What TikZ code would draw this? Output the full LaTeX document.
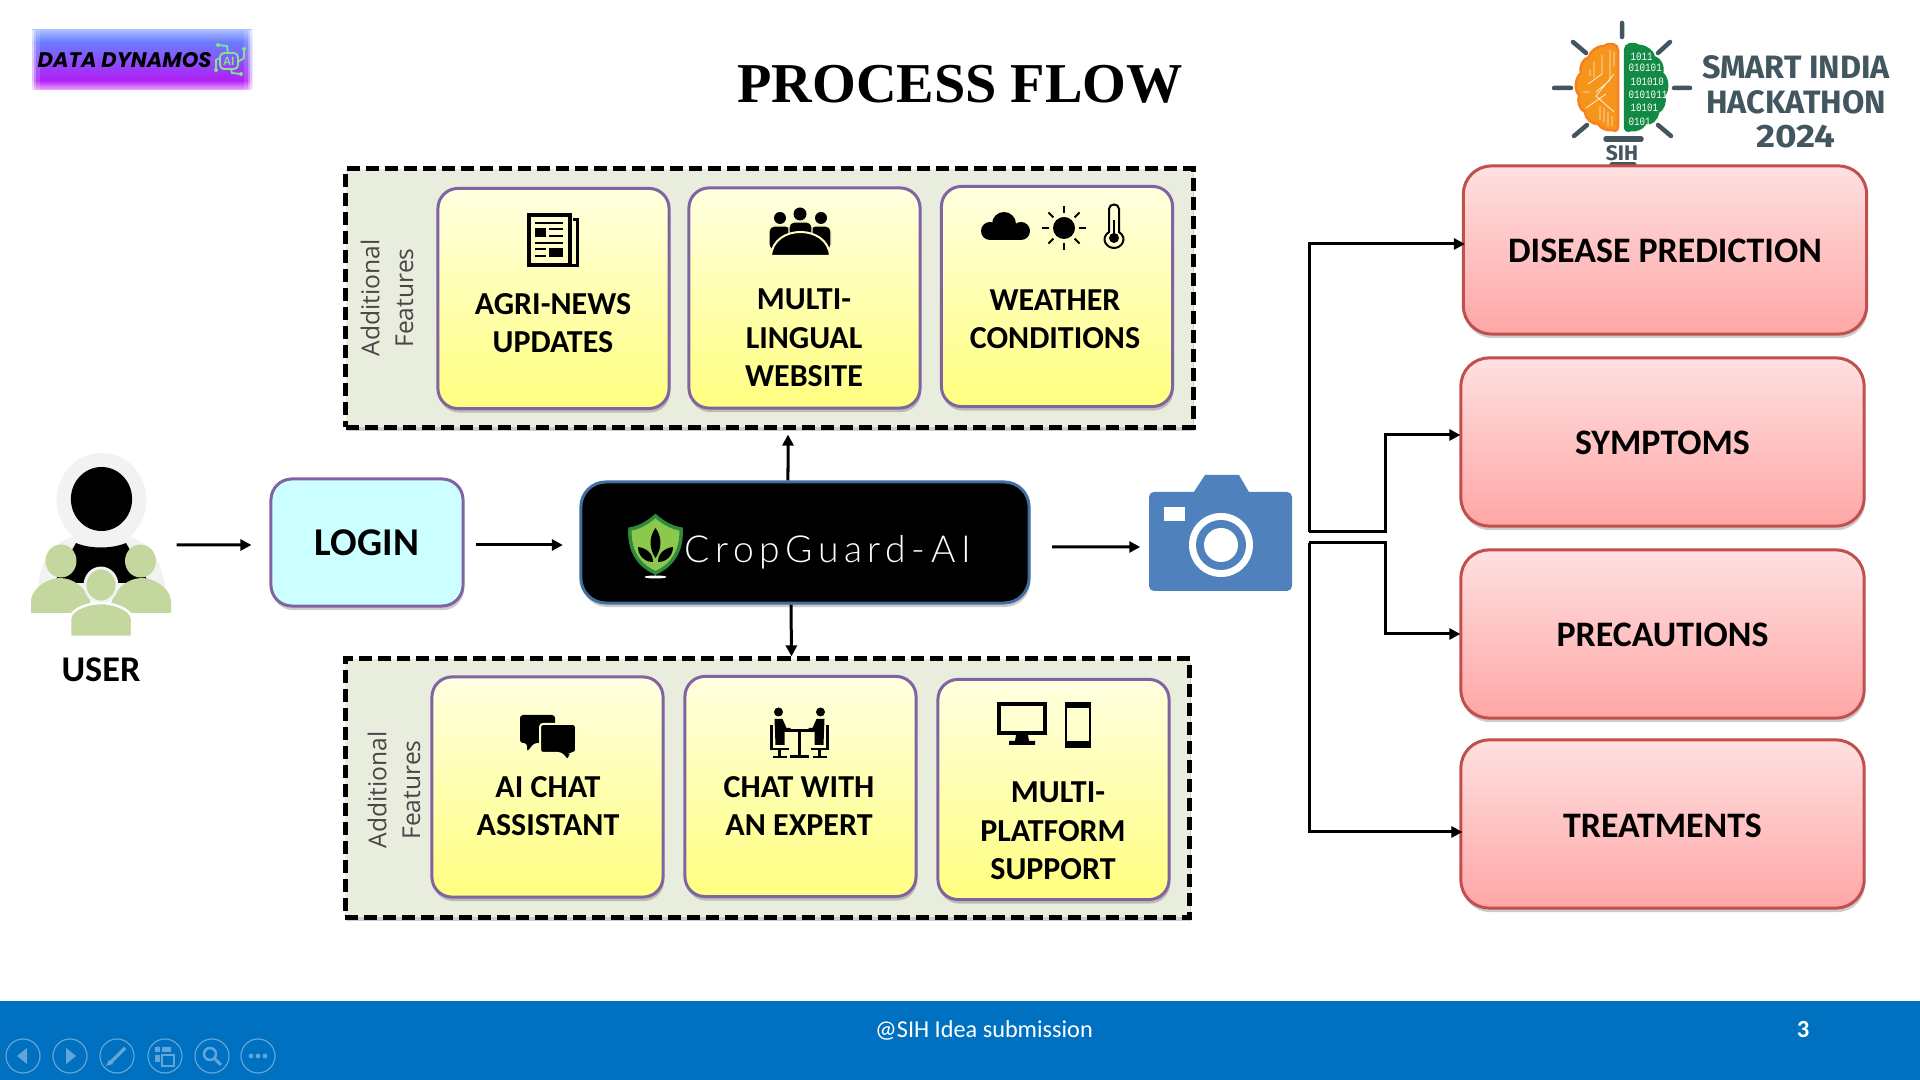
\documentclass[tikz,border=0pt]{standalone}
\usepackage{fontspec}
\setmainfont{Carlito}
\newfontfamily\titlefont{Liberation Serif}
\newfontfamily\sidefont{Open Sans}
\newfontfamily\cgfont[LetterSpace=15]{Lato Light}
\newfontfamily\ddfont{Poppins}
\newfontfamily\sihfont{Fira Sans}
\newfontfamily\binfont{Liberation Mono}
\usetikzlibrary{arrows.meta,shadows}
\definecolor{sihgrey}{HTML}{42565F}
\definecolor{barblue}{HTML}{0070C0}
\definecolor{navblue}{HTML}{62A5D8}
\definecolor{camblue}{HTML}{4F81BD}
\definecolor{cardpurple}{HTML}{8064A2}
\definecolor{cardred}{HTML}{C0504D}
\definecolor{boxgreen}{HTML}{E9EDDE}
\definecolor{usergreen}{HTML}{C4D79F}
\definecolor{usergrey}{HTML}{F2F2F2}
\definecolor{logincyan}{HTML}{CCFFFF}
\definecolor{iconyellow}{HTML}{FFFFC4}
\definecolor{brainorange}{HTML}{F58220}
\definecolor{braingreen}{HTML}{138A43}
\definecolor{shieldgreen}{HTML}{2E8B3E}
\definecolor{leafgreen}{HTML}{8CC84B}
\definecolor{ddgreen}{HTML}{7FE58C}
\definecolor{ddlow}{HTML}{EFAAFF}
\definecolor{ddpurple}{HTML}{B020F5}
\definecolor{ddblue}{HTML}{6A7BFF}
\definecolor{ddhigh}{HTML}{A8BCFF}
\pgfdeclareverticalshading{ddband}{100bp}{color(0bp)=(ddlow); color(25bp)=(ddlow); color(33bp)=(ddpurple); color(65bp)=(ddblue); color(75bp)=(ddhigh); color(100bp)=(ddhigh)}
\tikzset{
	softshadow/.style={drop shadow={shadow xshift=.01cm,shadow yshift=-.04cm,opacity=.2,fill=black}},
	dashedbox/.style={draw=black,fill=boxgreen,line width=.05cm,dash pattern=on .13cm off .06cm,inner sep=0pt,minimum width=8.47cm,minimum height=2.58cm,softshadow},
	featurecard/.style={draw=cardpurple,line width=.03cm,rounded corners=.2cm,top color=yellow!12!white,bottom color=yellow!50!white,inner sep=0pt,minimum width=2.31cm,minimum height=2.2cm,softshadow},
	resultcard/.style={draw=cardred,line width=.03cm,rounded corners=.28cm,top color=red!12!white,bottom color=red!35!white,inner sep=0pt,minimum width=4.03cm,minimum height=1.68cm,softshadow,text height=.26cm,text depth=0pt,font=\bfseries\fontsize{10.2}{12}\selectfont},
	cardtext/.style={align=center,font=\bfseries\fontsize{9.1}{10.95}\selectfont},
	sidetext/.style={rotate=90,align=center,text=black!72,font=\sidefont\fontsize{7}{9.6}\selectfont},
	flowarrow/.style={line width=.03cm,-{Triangle[length=.11cm,width=.11cm]}},
	navbutton/.style={shape=circle,draw=navblue,line width=.012cm,minimum size=.34cm,inner sep=0pt},
	sihray/.style={draw=sihgrey,line width=.045cm,line cap=round},
	logotext/.style={text=sihgrey,font=\sihfont\bfseries\fontsize{9.2}{11}\selectfont,inner sep=0pt}
}
\newcommand{\brainhalf}{(1618,50) .. controls (1618,44) and (1610,42) .. (1604,46) .. controls (1596,46) and (1590,52) .. (1589,57) .. controls (1583,59) and (1579,66) .. (1581,73) .. controls (1575,78) and (1574,90) .. (1579,95) .. controls (1577,102) and (1580,110) .. (1585,112) .. controls (1586,120) and (1592,124) .. (1598,124) .. controls (1601,129) and (1608,131) .. (1612,130) .. controls (1616,132) and (1618,130) .. (1618,126) -- cycle}
\begin{document}
\begin{tikzpicture}[x=.01cm,y=-.01cm]
	\useasboundingbox (0,0) rectangle (1920,1080);
	\fill[white] (0,0) rectangle (1920,1080);

	\fill[barblue] (0,1001) rectangle (1920,1080);
	\node[text=white,font=\fontsize{6.9}{8}\selectfont] (footer) at (984,1030) {@SIH Idea submission};
	\node[text=white,font=\bfseries\fontsize{7}{8}\selectfont] (pagenum) at (1803,1030) {3};
	\foreach \n/\xpos in {1/23,2/70,3/117,4/165,5/212,6/258}
		\node[navbutton] (nav\n) at (\xpos,1056) {};
	\fill[navblue] (17,1056) -- (27,1048) -- (27,1064) -- cycle;
	\fill[navblue] (76,1056) -- (66,1048) -- (66,1064) -- cycle;
	\draw[navblue,line width=.035cm] (110,1063) -- (125,1048);
	\fill[navblue] (106,1066) -- (109,1060) -- (113,1064) -- cycle;
	\fill[navblue] (155,1047) rectangle (160,1052) (162,1047) rectangle (171,1052) (155,1055) rectangle (160,1062);
	\draw[navblue,line width=.012cm] (162,1055) rectangle (174,1066);
	\draw[navblue,line width=.025cm] (210,1054) circle[radius=6];
	\draw[navblue,line width=.03cm] (215,1059) -- (221,1065);
	\foreach \xpos in {251,258,265}
		\fill[navblue] (\xpos,1056) circle[radius=2.4];

	\fill[shading=ddband] (32,30) rectangle (252,90);
	\foreach \wd/\op in {2/.5,4/.3,8/.15} {
		\fill[white,opacity=\op] (32,30) rectangle ++(\wd,60);
		\fill[white,opacity=\op] (252,30) rectangle ++(-\wd,60);
	}
	\node[anchor=west,inner sep=0pt,font=\ddfont\bfseries\itshape\fontsize{6}{7}\selectfont] (ddname) at (37,60) {DATA DYNAMOS};
	\draw[ddgreen,line width=.018cm,rounded corners=.04cm] (220,53) rectangle (238,69);
	\node[text=ddgreen,inner sep=0pt,font=\bfseries\fontsize{3.6}{4}\selectfont] (ddai) at (229,61) {AI};
	\draw[ddgreen,line width=.018cm] (218,45) -- (227,46) -- (228,53) (244,49) -- (244,58) -- (238,62) (241,74) -- (232,73) -- (231,69) (216,70) -- (216,60) -- (220,58);
	\foreach \xpos/\ypos in {218/45,244/49,241/74,216/70}
		\fill[ddgreen] (\xpos,\ypos) circle[radius=2];

	\node[font=\titlefont\bfseries\fontsize{16}{18}\selectfont] (title) at (960,84) {PROCESS FLOW};

	\draw[sihray] (1622,23) -- (1622,37) (1573,42) -- (1586,53) (1670,42) -- (1658,53) (1554,88) -- (1571,88) (1674,88) -- (1690,88) (1574,136) -- (1587,125) (1658,125) -- (1671,136);
	\draw[sihray,line width=.055cm] (1606,139) -- (1641,139) (1612,165) -- (1634,165);
	\filldraw[draw=brainorange,fill=brainorange!85!yellow,line width=.025cm] \brainhalf;
	\draw[white!85!orange,line width=.008cm] (1610,50) -- (1610,80) -- (1596,92) (1602,55) -- (1602,74) -- (1588,84) (1594,62) -- (1594,78) (1614,74) -- (1596,96) -- (1614,112) (1586,108) -- (1606,94) (1600,120) -- (1600,106) (1608,126) -- (1608,112) (1614,52) -- (1614,66) (1583,92) -- (1590,92) (1590,70) -- (1590,76) (1604,122) -- (1604,108) (1612,126) -- (1612,116);
	\begin{scope}[shift={(3243,0)},xscale=-1]
		\filldraw[draw=braingreen,fill=braingreen,line width=.025cm] \brainhalf;
	\end{scope}
	\foreach \row/\ypos/\xpos/\bits in {1/57/1630/1011,2/68/1628/010101,3/82/1630/101010,4/95/1628/0101011,5/108/1630/10101,6/122/1628/0101}
		\node[anchor=west,inner sep=0pt,text=white,xscale=.82,transform shape,font=\binfont\fontsize{3.2}{4}\selectfont] (bin\row) at (\xpos,\ypos) {\bits};
	\node[text=sihgrey,inner sep=0pt,font=\sihfont\bfseries\fontsize{6}{7}\selectfont] (sihmark) at (1622,153) {SIH};
	\node[logotext] (sihline1) at (1796,67) {SMART INDIA};
	\node[logotext] (sihline2) at (1796,102) {HACKATHON};
	\node[logotext,xscale=1.14,transform shape] (sihline3) at (1796,137) {2024};

	\node[dashedbox] (topbox) at (769.5,298) {};
	\node[dashedbox,minimum width=8.44cm] (botbox) at (767.5,788) {};
	\node[sidetext] (topside) at (387,298) {Additional\\Features};
	\node[sidetext] (botside) at (394,790) {Additional\\Features};

	\node[featurecard] (news) at (553.5,298.5) {};
	\node[featurecard] (lingual) at (804.5,298) {};
	\node[featurecard] (weather) at (1057,296.5) {};
	\node[featurecard] (chat) at (547.5,787) {};
	\node[featurecard] (expert) at (800.5,786.5) {};
	\node[featurecard] (platform) at (1053.5,789.5) {};
	\node[cardtext] (newstext) at (553,323) {AGRI-NEWS\\UPDATES};
	\node[cardtext] (lingualtext) at (804,338) {MULTI-\\LINGUAL\\WEBSITE};
	\node[cardtext] (weathertext) at (1055,319) {WEATHER\\CONDITIONS};
	\node[cardtext] (chattext) at (548,806) {AI CHAT\\ASSISTANT};
	\node[cardtext] (experttext) at (799,806) {CHAT WITH\\AN EXPERT};
	\node[cardtext] (platformtext) at (1053,831) {\hspace*{.1cm}MULTI-\\PLATFORM\\SUPPORT};

	\draw[line width=.04cm] (529,215) rectangle (570,265);
	\draw[line width=.03cm] (573,220) -- (577,220) -- (577,266) -- (570,266);
	\fill (535,228) rectangle (546,237);
	\fill (549,248) rectangle (563,257);
	\draw[line width=.016cm] (535,223) -- (563,223) (549,229) -- (563,229) (549,236) -- (563,236) (535,243) -- (563,243) (535,249) -- (546,249) (535,256) -- (546,256);

	\fill (780,218) circle[radius=6] (800,214) circle[radius=6.5] (821,218) circle[radius=6];
	\filldraw[draw=iconyellow,line width=.012cm,fill=black,rounded corners=.05cm] (769,250) -- (769,226) -- (791,226) -- (791,250) -- cycle;
	\filldraw[draw=iconyellow,line width=.012cm,fill=black,rounded corners=.05cm] (810,250) -- (810,226) -- (831,226) -- (831,250) -- cycle;
	\filldraw[draw=iconyellow,line width=.012cm,fill=black,rounded corners=.05cm] (789,250) -- (789,222) -- (812,222) -- (812,250) -- cycle;
	\filldraw[draw=iconyellow,line width=.02cm,fill=black] (771,256) .. controls (773,224) and (828,224) .. (830,256) -- cycle;

	\fill (990,231) circle[radius=9];
	\fill (1004,224) circle[radius=12];
	\fill (1021,231) circle[radius=9];
	\fill (990,228) rectangle (1021,240);
	\fill (1064,228) circle[radius=11];
	\foreach \ang in {0,45,...,315}
		\draw[line width=.02cm] (1064,228) ++(\ang:15) -- ++(\ang:7);
	\draw[line width=.02cm] (1109,232) -- (1109,209) .. controls (1109,203) and (1119,203) .. (1119,209) -- (1119,232) .. controls (1128,238) and (1122,248) .. (1114,248) .. controls (1106,248) and (1100,238) .. (1109,232) -- cycle;
	\fill (1114,238) circle[radius=5];
	\draw[line width=.015cm] (1114,238) -- (1114,220);

	\fill[rounded corners=.03cm] (520,715) -- (555,715) -- (555,743) -- (534,743) -- (527,752) -- (527,743) -- (520,743) -- cycle;
	\filldraw[draw=iconyellow,line width=.02cm,fill=black,rounded corners=.03cm] (540,724) -- (576,724) -- (576,753) -- (571,753) -- (568,761) -- (561,753) -- (540,753) -- cycle;

	\foreach \side in {1,-1} {
		\begin{scope}[shift={(799.5,0)},xscale=\side]
			\fill (-21,712) circle[radius=4.5];
			\fill (-25,719) -- (-17,719) -- (-13,728) -- (-9,728) -- (-9,732) -- (-15,732) -- (-15,745) -- (-24,745) -- cycle;
			\draw[line width=.025cm] (-28,725) -- (-28,749) -- (-11,749) (-20,749) -- (-20,757) (-27,757) -- (-13,757);
		\end{scope}
	}
	\draw[line width=.03cm] (785,731) -- (814,731) (799.5,731) -- (799.5,756) (790,757) -- (809,757);

	\draw[line width=.045cm] (999,704) rectangle (1045,733);
	\fill (1016,735) -- (1028,735) -- (1029,741) -- (1035,741) -- (1035,745) -- (1009,745) -- (1009,741) -- (1015,741) -- cycle;
	\draw[line width=.025cm] (1066,703) rectangle (1090,747);
	\fill (1065,702) rectangle (1091,708);
	\fill (1065,741) rectangle (1091,748);

	\node[shape=rectangle,rounded corners=.21cm,draw=cardpurple,line width=.03cm,fill=logincyan,inner sep=0pt,minimum width=1.92cm,minimum height=1.27cm,softshadow,font=\bfseries\fontsize{11.2}{13}\selectfont] (login) at (367,542.5) {LOGIN};

	\fill[usergrey] (101.5,500) ellipse[x radius=45,y radius=47];
	\fill[usergrey] (38,587) .. controls (42,550) and (60,533) .. (101,533) .. controls (142,533) and (160,550) .. (165,587) -- cycle;
	\fill (101.5,499) ellipse[x radius=30.6,y radius=32];
	\fill (76,543) .. controls (90,549) and (112,549) .. (126,543) -- (149,583) -- (54,583) -- cycle;
	\fill[usergreen] (61,561) ellipse[x radius=15.5,y radius=16.5] (140.5,561) ellipse[x radius=15.5,y radius=16.5];
	\fill[usergreen] (31,613) -- (31,600) .. controls (33,586) and (50,578) .. (60,578) .. controls (74,578) and (92,590) .. (92,613) -- cycle;
	\fill[usergreen] (171,613) -- (171,600) .. controls (169,586) and (152,578) .. (142,578) .. controls (128,578) and (110,590) .. (110,613) -- cycle;
	\filldraw[draw=usergrey,fill=usergreen,line width=.028cm] (101,585) ellipse[x radius=16,y radius=17];
	\filldraw[draw=white,fill=usergreen,line width=.025cm] (70,637) -- (70,618) .. controls (72,608) and (90,603) .. (101,603) .. controls (112,603) and (130,608) .. (132,618) -- (132,637) -- cycle;
	\node[inner sep=0pt,minimum width=1.4cm,minimum height=1.84cm] (user) at (101,545) {};
	\node[font=\bfseries\fontsize{10.3}{12}\selectfont] (usertext) at (101,670) {USER};

	\node[draw=camblue!85!black,line width=.03cm,fill=black,rounded corners=.25cm,inner sep=0pt,minimum width=4.48cm,minimum height=1.21cm,softshadow] (crop) at (805,542.5) {};
	\filldraw[draw=shieldgreen,fill=leafgreen,line width=.035cm] (655.5,516) .. controls (645,525) and (637,528) .. (630,529) .. controls (629,548) and (636,564) .. (655.5,573) .. controls (675,564) and (682,548) .. (681,529) .. controls (674,528) and (666,525) .. (655.5,516) -- cycle;
	\fill (655.5,528) .. controls (648,538) and (650,550) .. (655.5,558) .. controls (661,550) and (663,538) .. (655.5,528) -- cycle;
	\fill (638,547) .. controls (638,556) and (645,562) .. (653,562) .. controls (653,553) and (646,548) .. (638,547) -- cycle;
	\fill (673,547) .. controls (673,556) and (666,562) .. (658,562) .. controls (658,553) and (665,548) .. (673,547) -- cycle;
	\fill[white] (655.5,577) ellipse[x radius=11,y radius=1.5];
	\node[anchor=west,inner sep=0pt,text=white,font=\cgfont\fontsize{10.6}{12}\selectfont] (cropname) at (684,552) {CropGuard-AI};

	\node[inner sep=0pt,minimum width=1.43cm,minimum height=1.16cm] (camera) at (1220.5,533) {};
	\fill[camblue] (1192.6,494) -- (1205,475) -- (1239,475) -- (1250,494) -- cycle;
	\fill[camblue,rounded corners=.05cm] (1149,492) rectangle (1292,591);
	\fill[white] (1163.5,507) rectangle (1185,521);
	\fill[white] (1221,545) circle[radius=32];
	\fill[camblue] (1221,545) circle[radius=25];
	\fill[white] (1221,545) circle[radius=17];

	\node[resultcard] (disease) at (1665,250) {DISEASE PREDICTION};
	\node[resultcard] (symptoms) at (1662.5,442) {SYMPTOMS};
	\node[resultcard] (precautions) at (1662.5,634) {PRECAUTIONS};
	\node[resultcard] (treatments) at (1662.5,824) {TREATMENTS};

	\path[flowarrow,shorten <=.05cm,shorten >=.18cm] (user.east) edge ([yshift=-.025cm]login.west);
	\path[flowarrow,shorten <=.115cm,shorten >=.165cm] ([yshift=-.025cm]login.east) edge ([yshift=-.025cm]crop.west);
	\path[flowarrow,shorten <=.215cm,shorten >=.08cm] ([yshift=-.045cm]crop.east) edge ([yshift=-.14cm]camera.west);
	\path[flowarrow,shorten >=.05cm] ([xshift=-.17cm]crop.north) edge ([xshift=.185cm]topbox.south);
	\path[flowarrow] ([xshift=-.14cm]crop.south) edge ([xshift=.24cm]botbox.north);

	\coordinate (busup) at (1309,532);
	\coordinate (buslow) at (1309,543);
	\draw[flowarrow,shorten >=-.03cm] (busup) |- ([yshift=.06cm]disease.west);
	\draw[flowarrow,shorten >=-.01cm] (busup) -- ++(76,0) |- ([yshift=.07cm]symptoms.west);
	\draw[flowarrow,shorten >=-.01cm] (buslow) -- ++(76,0) |- (precautions.west);
	\draw[flowarrow,shorten >=-.03cm] (buslow) |- ([yshift=-.08cm]treatments.west);
\end{tikzpicture}
\end{document}
